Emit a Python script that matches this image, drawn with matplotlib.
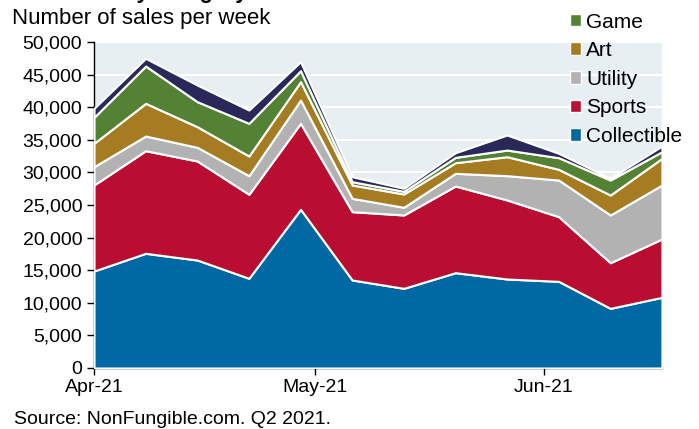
import matplotlib
matplotlib.use("Agg")
import matplotlib.pyplot as plt
import matplotlib.dates as mdates
from matplotlib.patches import Patch
from matplotlib.ticker import FuncFormatter
import pandas as pd

plt.rcParams['font.family'] = ['Liberation Sans', 'DejaVu Sans']

weeks = pd.date_range("2021-04-01", periods=12, freq="7D")

# weekly sales counts per category
collectible = [14880, 17590, 16560, 13760, 24340, 13500, 12220, 14620, 13650, 13290, 9150, 10840]
sports = [13190, 15740, 15190, 12880, 13190, 10480, 11250, 13290, 12120, 9920, 7000, 8950]
utility = [2810, 2250, 2100, 2860, 3570, 2040, 1180, 1950, 3730, 5620, 7320, 8280]
art = [3580, 5020, 3160, 3020, 2820, 2050, 2040, 1630, 2910, 1640, 3060, 4090]
game = [3990, 5720, 3840, 5010, 1680, 510, 410, 820, 1020, 1790, 2300, 1020]
other = [1380, 1180, 2550, 2040, 1380, 760, 460, 710, 2310, 670, 270, 870]

labels = ["Collectible", "Sports", "Utility", "Art", "Game", "Other"]
colors = ["#0068A2", "#B90E31", "#B2B2B2", "#A67C22", "#548235", "#2A2859"]

fig = plt.figure(figsize=(6.99, 4.29), dpi=100)
ax = fig.add_axes([0.1345, 0.1422, 0.8125, 0.7598])
ax.set_facecolor("#E7EFF3")

ax.stackplot(weeks, collectible, sports, utility, art, game, other,
             colors=colors, edgecolor="white", linewidth=1.5, zorder=3)

ax.set_ylim(0, 50000)
ax.set_yticks(range(0, 50001, 5000))
ax.yaxis.set_major_formatter(FuncFormatter(lambda v, p: f"{int(v):,}"))
ax.grid(axis="y", color="white", linewidth=1.5, zorder=1)
ax.set_axisbelow(True)

ax.set_xlim(weeks[0], weeks[-1])
ax.xaxis.set_major_locator(mdates.MonthLocator())
ax.xaxis.set_major_formatter(mdates.DateFormatter("%b-%y"))

for s in ["top", "right"]:
    ax.spines[s].set_visible(False)
for s in ["left", "bottom"]:
    ax.spines[s].set_color("black")
    ax.spines[s].set_linewidth(1.0)
ax.tick_params(axis="both", labelsize=14, length=5, width=1, colors="black")
ax.tick_params(axis="x", pad=3)

# legend, top of stack first
handles = [Patch(facecolor=c, edgecolor="white", linewidth=1) for c in colors[4::-1]]
fig.legend(handles, labels[4::-1], loc="upper left", bbox_to_anchor=(0.80, 0.995),
           frameon=False, fontsize=15, handlelength=0.55, handleheight=0.55,
           handletextpad=0.25, labelspacing=0.46, borderpad=0)

fig.text(0.017, 0.958, "Number of sales per week", fontsize=16, va="center")
fig.text(0.017, 1.005, "NFT sales by category", fontsize=16, weight="bold", va="baseline")
fig.text(0.02, 0.021, "Source: NonFungible.com. Q2 2021.", fontsize=14, va="center")

fig.savefig("out.png", dpi=100)
